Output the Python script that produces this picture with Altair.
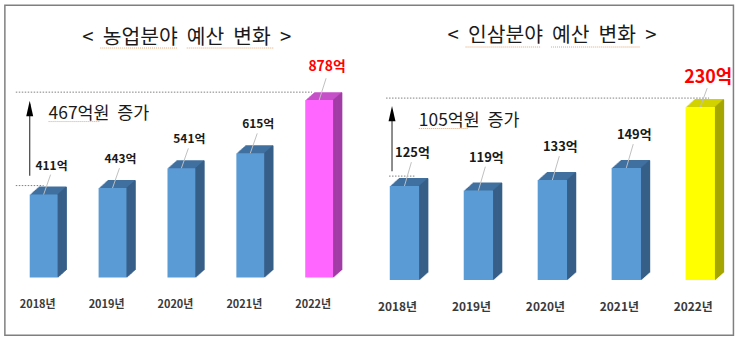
import altair as alt
import pandas as pd

# ---- data ----
years = ["2018년", "2019년", "2020년", "2021년", "2022년"]
agri_budget = [411, 443, 541, 615, 878]       # 억원
ginseng_budget = [125, 119, 133, 149, 230]    # 억원
NB = "\u00a0\u00a0"
agri_title = NB.join(["<", "농업분야", "예산", "변화", ">"])
ginseng_title = NB.join(["<", "인삼분야", "예산", "변화", ">"])

FONT = "Noto Sans CJK KR"
BLUE_FRONT, BLUE_TOP, BLUE_SIDE = "#5B9BD5", "#41709F", "#375F88"
LEADER = "#BFBFBF"
SQUIGGLE = "#EBA36C"


def panel(values, title, c, border=False):
    df = pd.DataFrame({"year": years, "v": values,
                       "label": [f"{v}억" for v in values]})
    one = pd.DataFrame({"first": [values[0]], "last": [values[-1]],
                        "txt": [f"{values[-1] - values[0]}억원\u00a0\u00a0증가"],
                        "title": [title]})
    last_year = years[-1]
    is_last = alt.datum.year == last_year

    x = alt.X("year:N", sort=years,
              scale=alt.Scale(range=[0, c["range"]], paddingInner=0, paddingOuter=0),
              axis=alt.Axis(title=None, domain=False, ticks=False, labelAngle=0,
                            labelFont=FONT, labelFontSize=c["axfs"], labelFontWeight="bold",
                            labelColor="#3A3A3A", labelPadding=c["axpad"],
                            labelOffset=c["axoff"]))
    yscale = alt.Scale(domain=[0, c["ymax"]], nice=False, zero=True)
    y = alt.Y("v:Q", scale=yscale, axis=None)

    base = alt.Chart(df)
    ob = alt.Chart(one)
    layers = []

    if border:
        layers.append(ob.mark_rect(fillOpacity=0, stroke="#7F7F7F", strokeWidth=1.5).encode(
            x=alt.value(c["bx"][0]), x2=alt.value(c["bx"][1]),
            y=alt.value(c["by"][0]), y2=alt.value(c["by"][1])))

    # title
    layers.append(ob.mark_text(font=FONT, fontSize=20.5, color="#1A1A1A", align="center",
                               baseline="middle").encode(
        text="title:N", x=alt.value(c["tx"]), y=alt.value(c["ty"])))
    for (a, b) in c["tul"]:
        layers.append(ob.mark_rule(color=SQUIGGLE, strokeDash=[1, 1], strokeWidth=1).encode(
            x=alt.value(a), x2=alt.value(b), y=alt.value(c["tuly"])))

    # dotted reference lines
    layers.append(ob.mark_rule(color="#7F7F7F", strokeDash=[1.5, 1.5], strokeWidth=1,
                               yOffset=c["dtop_off"]).encode(
        y=alt.Y("last:Q", scale=yscale, axis=None),
        x=alt.value(c["dtop_x"][0]), x2=alt.value(c["dtop_x"][1])))
    layers.append(ob.mark_rule(color="#7F7F7F", strokeDash=[1.5, 1.5], strokeWidth=1,
                               yOffset=c["dlow_off"]).encode(
        y=alt.Y("first:Q", scale=yscale, axis=None),
        x=alt.value(c["dlow_x"][0]), x2=alt.value(c["dlow_x"][1])))

    # arrow
    layers.append(ob.mark_rule(color="#404040", strokeWidth=1.2,
                               yOffset=c["ar_off1"], y2Offset=c["ar_off2"]).encode(
        y=alt.Y("first:Q", scale=yscale, axis=None), y2="last:Q",
        x=alt.value(c["arx"])))
    layers.append(ob.mark_point(shape="M -0.45 1 L 0 -1 L 0.45 1 Z", filled=True,
                                color="#000000", size=240, opacity=1,
                                yOffset=c["head_off"]).encode(
        y=alt.Y("last:Q", scale=yscale, axis=None), x=alt.value(c["arx"])))

    # annotation text
    layers.append(ob.mark_text(font=FONT, fontSize=17.5, color="#1A1A1A", align="left",
                               baseline="middle").encode(
        text="txt:N", x=alt.value(c["annx"]), y=alt.value(c["anny"])))
    layers.append(ob.mark_rule(color=SQUIGGLE, strokeDash=[1, 1], strokeWidth=1).encode(
        x=alt.value(c["annul"][0]), x2=alt.value(c["annul"][1]), y=alt.value(c["annuly"])))

    # 3D bars: extrusion (top colour), side face strips, front face
    bw, dx, dy = c["bw"], 9, 8
    top_col = alt.condition(is_last, alt.value(c["hl_top"]), alt.value(BLUE_TOP))
    side_col = alt.condition(is_last, alt.value(c["hl_side"]), alt.value(BLUE_SIDE))
    front_col = alt.condition(is_last, alt.value(c["hl_front"]), alt.value(BLUE_FRONT))
    for k in range(dx, 0, -1):
        off = -k * dy / dx
        layers.append(base.mark_bar(width=bw, xOffset=k, yOffset=off, y2Offset=off).encode(
            x=x, y=y, color=top_col))
    for k in range(dx, 0, -1):
        off = -(k - 0.5) * dy / dx
        layers.append(base.mark_bar(width=1.6, xOffset=bw / 2 + k - 0.5,
                                    yOffset=off, y2Offset=off).encode(
            x=x, y=y, color=side_col))
    layers.append(base.mark_bar(width=bw).encode(x=x, y=y, color=front_col))

    # leader lines
    normal = base.transform_filter(alt.datum.year != last_year)
    hl = base.transform_filter(is_last)
    layers.append(normal.mark_rule(color=LEADER, strokeWidth=1, x2Offset=7,
                                   y2Offset=c["lead_off"]).encode(
        x=x, x2="year:N", y=y, y2="v:Q"))
    layers.append(hl.mark_rule(color=LEADER, strokeWidth=1, x2Offset=7,
                               y2Offset=c["lead_off_hl"]).encode(
        x=x, x2="year:N", y=y, y2="v:Q"))

    # value labels
    layers.append(normal.mark_text(font=FONT, fontWeight="bold", fontSize=c["lfs"],
                                   color="#1A1A1A", align="center", baseline="middle",
                                   xOffset=8, yOffset=c["lab_off"]).encode(
        x=x, y=y, text="label:N"))
    layers.append(hl.mark_text(font=FONT, fontWeight="bold", fontSize=c["lfs_hl"],
                               color="#FF0000", align="center", baseline="middle",
                               xOffset=8, yOffset=c["lab_off_hl"]).encode(
        x=x, y=y, text="label:N"))

    return alt.layer(*layers).properties(width=c["width"], height=c["height"])


# layout (plot origins: left (8.35, 57), right (368.3, 57))
LX, RX, TOP = 8.35, 368.3, 57
left_cfg = dict(
    range=346.5, width=346.5, height=221, ymax=221 / 0.2034,
    bx=(4 - LX, 737 - LX), by=(4 - TOP, 336 - TOP),
    tx=187 - LX, ty=37 - TOP, tuly=47 - TOP,
    tul=[(100 - LX, 177 - LX), (187 - LX, 275 - LX)],
    dtop_off=-8, dtop_x=(15 - LX, 313 - LX),
    dlow_off=-9, dlow_x=(15 - LX, 43 - LX),
    arx=29 - LX, ar_off1=-19, ar_off2=4, head_off=8.5,
    annx=48 - LX, anny=113 - TOP, annul=(48 - LX, 100 - LX), annuly=121 - TOP,
    bw=28, hl_front="#FF66FF", hl_top="#C650C8", hl_side="#A23DA6",
    axfs=11, axpad=21, axoff=-6,
    lfs=12, lab_off=-29, lead_off=-20,
    lfs_hl=14, lab_off_hl=-33, lead_off_hl=-22,
)
right_cfg = dict(
    range=372, width=367, height=223.5, ymax=223.5 / 0.757,
    tx=554 - RX, ty=35 - TOP, tuly=46 - TOP,
    tul=[(467 - RX, 543 - RX), (553 - RX, 642 - RX)],
    dtop_off=-9, dtop_x=(387 - RX, 712 - RX),
    dlow_off=-10, dlow_x=(390 - RX, 417 - RX),
    arx=393 - RX, ar_off1=-15, ar_off2=3, head_off=6.6,
    annx=420 - RX, anny=120 - TOP, annul=(420 - RX, 470 - RX), annuly=128 - TOP,
    bw=29.5, hl_front="#FFFF00", hl_top="#D2D200", hl_side="#A6A600",
    axfs=12, axpad=22, axoff=-7,
    lfs=13, lab_off=-33, lead_off=-24,
    lfs_hl=18, lab_off_hl=-29, lead_off_hl=-19,
)

left = panel(agri_budget, agri_title, left_cfg, border=True)
right = panel(ginseng_budget, ginseng_title, right_cfg)

chart = alt.hconcat(left, right, spacing=RX - (LX + 346.5), bounds="flush").properties(
    padding={"left": 3.25, "top": 3.25, "right": 2.25, "bottom": 6.25},
    background="white",
).configure_view(stroke=None)

chart.save("out.html", embed_options={"renderer": "svg", "actions": False})
